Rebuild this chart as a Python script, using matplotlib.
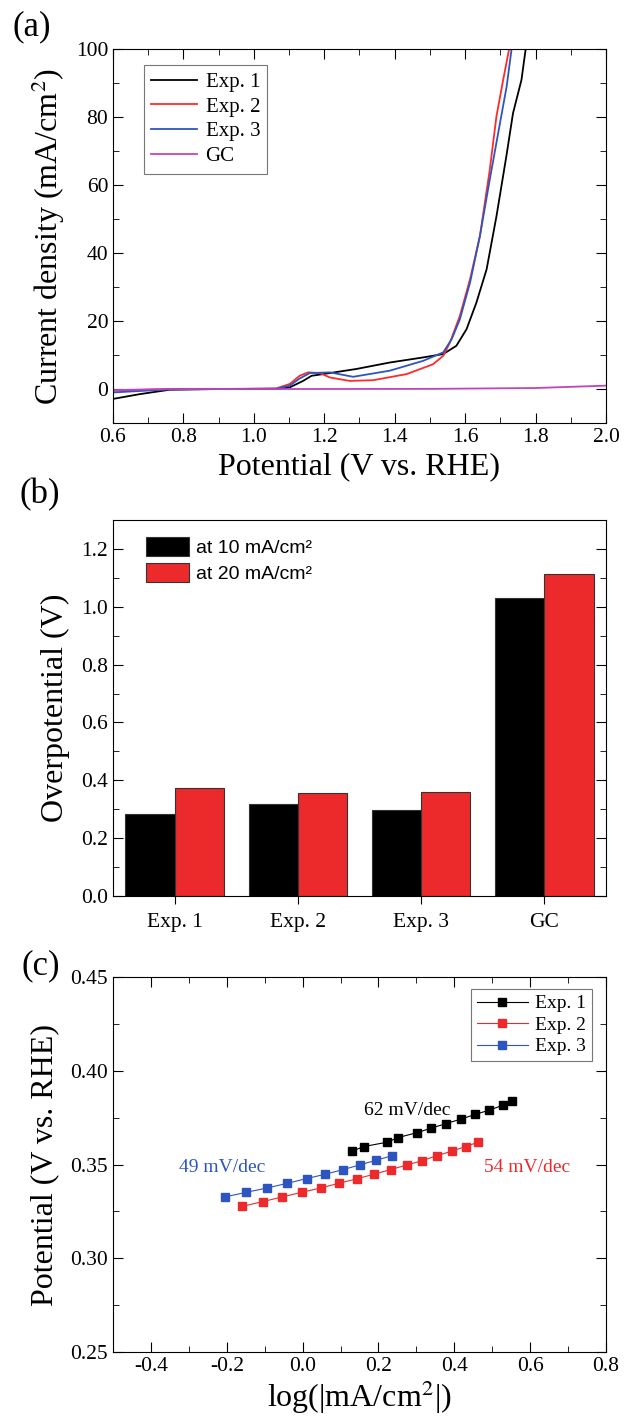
import numpy as np
import matplotlib
matplotlib.use('Agg')
import matplotlib.pyplot as plt
from matplotlib.ticker import MultipleLocator

plt.rcParams['font.family'] = ['Liberation Serif', 'DejaVu Serif']
plt.rcParams['mathtext.fontset'] = 'stix'

# ---- (a) polarization curves ----
v1 = [0.60, 0.676, 0.761, 0.90, 1.064, 1.102, 1.14, 1.164, 1.197, 1.291, 1.386, 1.481, 1.538,
      1.575, 1.604, 1.632, 1.661, 1.689, 1.717, 1.736, 1.760, 1.772]
j1 = [-2.9, -1.5, -0.2, 0.0, 0.0, 0.5, 2.4, 3.9, 4.4, 5.9, 7.8, 9.3, 10.3,
      12.7, 17.6, 25.4, 35.2, 50.8, 68.4, 81.1, 90.9, 100.0]
v2 = [0.60, 0.761, 0.90, 1.064, 1.102, 1.13, 1.154, 1.187, 1.216, 1.272, 1.339, 1.434, 1.509,
      1.538, 1.557, 1.585, 1.614, 1.642, 1.670, 1.689, 1.708, 1.725]
j2 = [-0.5, 0.0, 0.0, 0.2, 1.5, 3.9, 4.9, 4.7, 3.4, 2.4, 2.6, 4.4, 7.3,
      9.8, 13.7, 21.5, 32.3, 45.0, 64.5, 80.2, 90.9, 100.0]
v3 = [0.60, 0.761, 0.90, 1.064, 1.102, 1.13, 1.159, 1.216, 1.282, 1.386, 1.481, 1.538,
      1.562, 1.585, 1.614, 1.642, 1.670, 1.699, 1.718, 1.732]
j3 = [-1.0, -0.1, 0.0, 0.1, 1.0, 3.1, 4.7, 4.9, 3.6, 5.4, 8.3, 10.8,
      14.7, 20.5, 31.3, 45.0, 61.6, 78.2, 89.0, 100.0]
v_gc = [0.60, 0.75, 1.0, 1.5, 1.8, 2.0]
j_gc = [-0.3, 0.0, 0.0, 0.05, 0.3, 1.0]

# ---- (b) overpotentials ----
samples = ['Exp. 1', 'Exp. 2', 'Exp. 3', 'GC']
eta10 = [0.284, 0.319, 0.298, 1.031]
eta20 = [0.374, 0.355, 0.359, 1.113]

# ---- (c) Tafel plots ----
x_e1 = [0.130, 0.162, 0.223, 0.252, 0.302, 0.339, 0.378, 0.417, 0.455, 0.492, 0.528, 0.551]
y_e1 = [0.3571, 0.3596, 0.3619, 0.3644, 0.3670, 0.3694, 0.3718, 0.3742, 0.3767, 0.3790, 0.3816, 0.3841]
x_e2 = [-0.159, -0.105, -0.054, -0.002, 0.048, 0.096, 0.143, 0.188, 0.232, 0.276, 0.316, 0.354,
        0.393, 0.430, 0.463]
y_e2 = [0.3277, 0.3302, 0.3327, 0.3352, 0.3375, 0.3400, 0.3424, 0.3448, 0.3473, 0.3498, 0.3521,
        0.3547, 0.3571, 0.3596, 0.3619]
x_e3 = [-0.205, -0.148, -0.093, -0.040, 0.011, 0.059, 0.107, 0.151, 0.194, 0.236]
y_e3 = [0.3327, 0.3352, 0.3375, 0.3400, 0.3425, 0.3448, 0.3473, 0.3498, 0.3523, 0.3547]

red = '#ec2a2c'
blue = '#2d55c0'
mag = '#c043c0'
tick_fs = 15.5
lab_fs = 23

fig = plt.figure(figsize=(6.38, 14.23), dpi=100)

# (a)
ax = fig.add_axes([0.1771, 0.7027, 0.7727, 0.2629])
ax.plot(v1, j1, color='black', lw=1.3, label='Exp. 1')
ax.plot(v2, j2, color='#ff2a2a', lw=1.3, label='Exp. 2')
ax.plot(v3, j3, color=blue, lw=1.3, label='Exp. 3')
ax.plot(v_gc, j_gc, color=mag, lw=1.3, label='GC')
ax.set_xlim(0.6, 2.0)
ax.set_ylim(-10, 100)
ax.xaxis.set_major_locator(MultipleLocator(0.2))
ax.xaxis.set_minor_locator(MultipleLocator(0.1))
ax.set_yticks([0, 20, 40, 60, 80, 100])
ax.yaxis.set_minor_locator(MultipleLocator(10))
ax.set_xticklabels(['%.1f' % t for t in ax.get_xticks()])
ax.tick_params(which='both', direction='in', top=True, right=True, labelsize=tick_fs)
ax.tick_params(which='major', length=7)
ax.tick_params(which='minor', length=4)
ax.set_xlabel('Potential (V vs. RHE)', fontsize=lab_fs, labelpad=4)
ax.set_ylabel('Current density (mA/cm$^2$)', fontsize=lab_fs, labelpad=6)
leg = ax.legend(loc='upper left', bbox_to_anchor=(0.063, 0.957), borderaxespad=0,
                fontsize=15, frameon=True, fancybox=False, edgecolor='#555555',
                handlelength=2.2, labelspacing=0.25, handletextpad=0.4, borderpad=0.35)
leg.get_frame().set_linewidth(0.8)

# (b)
ax = fig.add_axes([0.1771, 0.3703, 0.7727, 0.2643])
x = np.arange(1, len(samples) + 1)
w = 0.4
ax.bar(x - w / 2, eta10, width=w, color='black', edgecolor='#333333', lw=0.8,
       label='at 10 mA/cm²')
ax.bar(x + w / 2, eta20, width=w, color=red, edgecolor='#333333', lw=0.8,
       label='at 20 mA/cm²')
ax.set_xlim(0.5, 4.5)
ax.set_xticks(x)
ax.set_xticklabels(samples)
ax.yaxis.set_major_locator(MultipleLocator(0.2))
ax.yaxis.set_minor_locator(MultipleLocator(0.1))
ax.set_ylim(0, 1.3)
ax.set_yticks([0.0, 0.2, 0.4, 0.6, 0.8, 1.0, 1.2])
ax.set_yticklabels(['0.0', '0.2', '0.4', '0.6', '0.8', '1.0', '1.2'])
ax.set_ylim(0, 1.3)
ax.tick_params(axis='y', which='both', direction='in', right=True, labelsize=tick_fs)
ax.tick_params(axis='y', which='major', length=7)
ax.tick_params(axis='y', which='minor', length=4)
ax.tick_params(axis='x', direction='out', length=6, labelsize=tick_fs, pad=6)
ax.set_ylabel('Overpotential (V)', fontsize=lab_fs, labelpad=8)
ax.legend(loc='upper left', bbox_to_anchor=(0.052, 0.975), borderaxespad=0,
          frameon=False, prop={'family': 'Liberation Sans', 'size': 14},
          handlelength=2.2, handleheight=1.1, labelspacing=0.3, handletextpad=0.35)

# (c)
ax = fig.add_axes([0.1771, 0.0499, 0.7727, 0.2635])
ax.plot(x_e1, y_e1, color='black', lw=0.8, marker='s', ms=6, label='Exp. 1')
ax.plot(x_e2, y_e2, color=red, lw=0.8, marker='s', ms=6, label='Exp. 2')
ax.plot(x_e3, y_e3, color=blue, lw=0.8, marker='s', ms=6, label='Exp. 3')
ax.xaxis.set_minor_locator(MultipleLocator(0.1))
ax.yaxis.set_minor_locator(MultipleLocator(0.025))
ax.set_xticks([-0.4, -0.2, 0.0, 0.2, 0.4, 0.6, 0.8])
ax.set_xticklabels(['-0.4', '-0.2', '0.0', '0.2', '0.4', '0.6', '0.8'])
ax.set_yticks([0.25, 0.30, 0.35, 0.40, 0.45])
ax.set_yticklabels(['0.25', '0.30', '0.35', '0.40', '0.45'])
ax.set_xlim(-0.5, 0.8)
ax.set_ylim(0.25, 0.45)
ax.tick_params(which='both', direction='in', top=True, right=True, labelsize=tick_fs)
ax.tick_params(which='major', length=7)
ax.tick_params(which='minor', length=4)
ax.set_xlabel('log(|mA/cm$^2$|)', fontsize=lab_fs, labelpad=2)
ax.set_ylabel('Potential (V vs. RHE)', fontsize=lab_fs, labelpad=8)
ax.text(0.275, 0.379, '62 mV/dec', color='black', fontsize=14, ha='center', va='center')
ax.text(-0.213, 0.3485, '49 mV/dec', color=blue, fontsize=14, ha='center', va='center')
ax.text(0.592, 0.3485, '54 mV/dec', color=red, fontsize=14, ha='center', va='center')
leg = ax.legend(loc='upper right', bbox_to_anchor=(0.972, 0.968), borderaxespad=0,
                fontsize=14, frameon=True, fancybox=False, edgecolor='#555555',
                handlelength=2.6, labelspacing=0.2, handletextpad=0.4, borderpad=0.3)
leg.get_frame().set_linewidth(0.8)

fig.text(0.019, 0.993, '(a)', fontsize=25, va='top', ha='left')
fig.text(0.030, 0.664, '(b)', fontsize=25, va='top', ha='left')
fig.text(0.034, 0.333, '(c)', fontsize=25, va='top', ha='left')

fig.savefig('out.png', dpi=100)
